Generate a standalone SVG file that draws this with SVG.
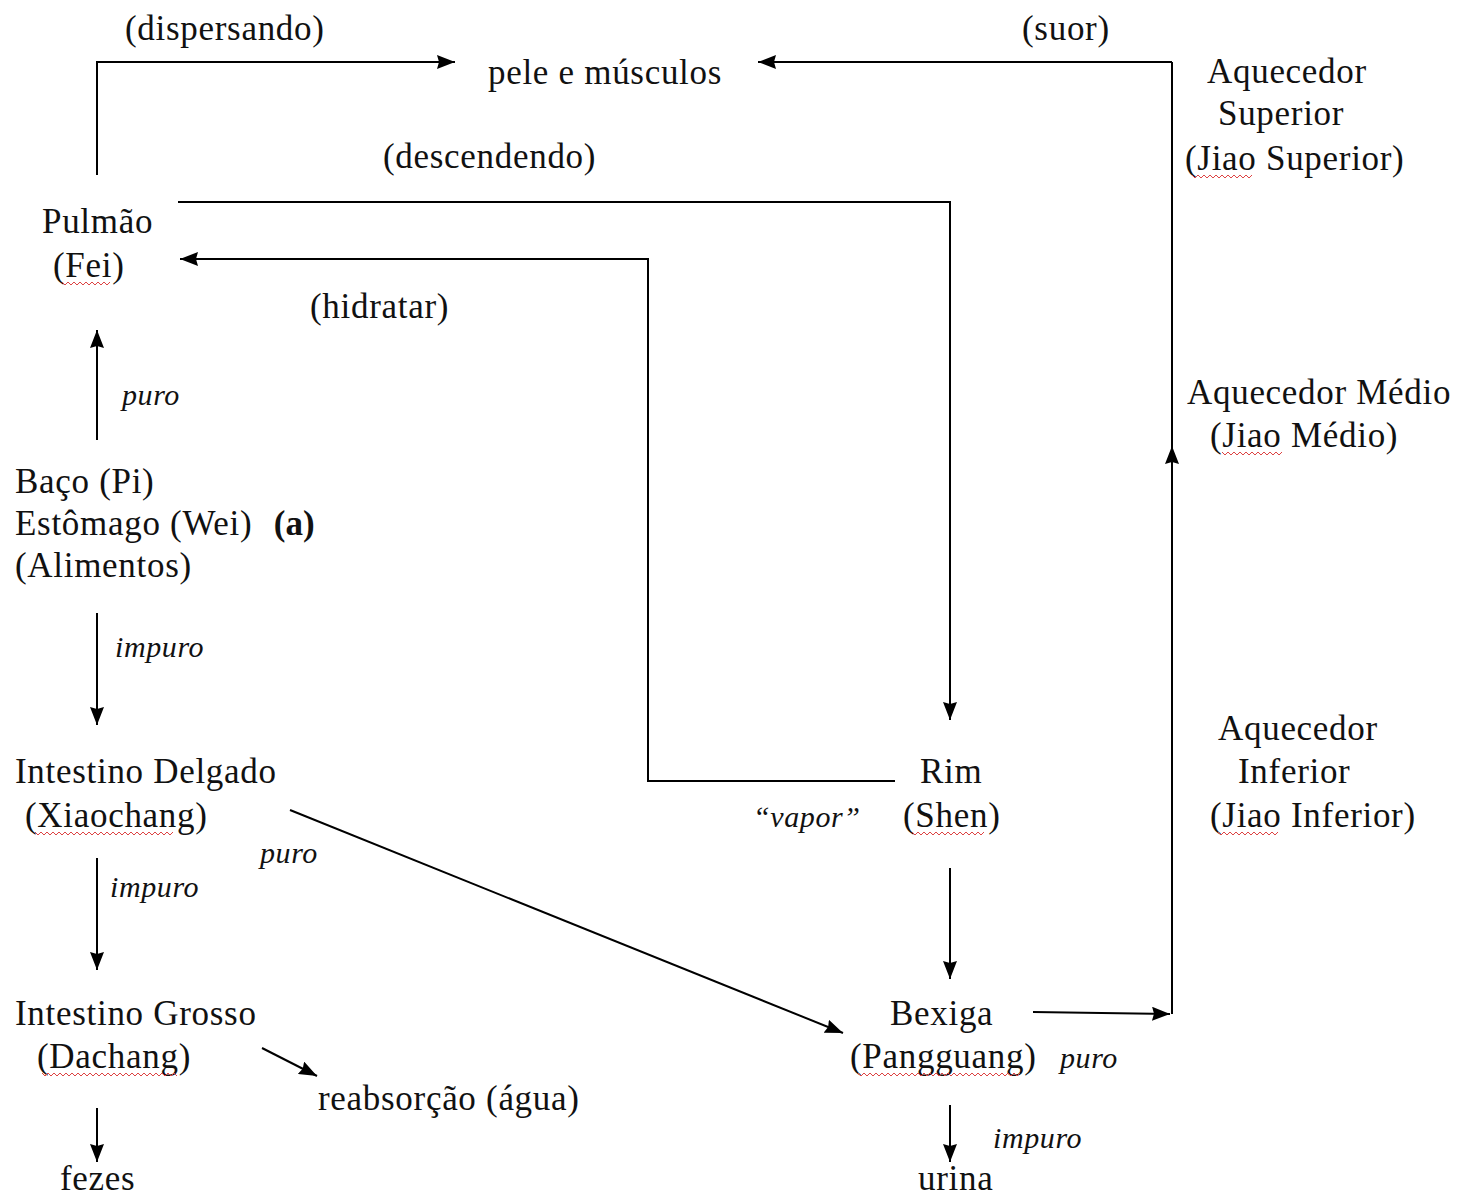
<svg xmlns="http://www.w3.org/2000/svg" width="1460" height="1204" viewBox="0 0 1460 1204">
<defs>
<marker id="ah" viewBox="0 0 18 14" refX="18" refY="7" markerWidth="18" markerHeight="14" markerUnits="userSpaceOnUse" orient="auto">
<path d="M0,0 L18,7 L0,14 L2,7 Z" fill="#000"/>
</marker>
<style>
text{font-family:"Liberation Serif","Times New Roman",serif;font-size:35px;letter-spacing:0.7px;fill:#111}
.i{font-style:italic;font-size:30px;letter-spacing:0.6px}
.b{font-weight:bold;letter-spacing:0}
.c{fill:none;stroke:#000;stroke-width:2}
.w{fill:none;stroke:#d44;stroke-width:1}
</style>
</defs>
<rect width="1460" height="1204" fill="#fff"/>
<g id="connectors">
<path class="c" d="M97,175 V62 H455" marker-end="url(#ah)"/>
<path class="c" d="M1172,62 H758" marker-end="url(#ah)"/>
<path class="c" d="M1172,1014 V446" marker-end="url(#ah)"/>
<path class="c" d="M1172,448 V62"/>
<path class="c" d="M1033,1012 L1170,1014" marker-end="url(#ah)"/>
<path class="c" d="M178,202 H950 V720" marker-end="url(#ah)"/>
<path class="c" d="M895,781 H648 V259 H180" marker-end="url(#ah)"/>
<path class="c" d="M97,440 V330" marker-end="url(#ah)"/>
<path class="c" d="M97,613 V725" marker-end="url(#ah)"/>
<path class="c" d="M97,858 V970" marker-end="url(#ah)"/>
<path class="c" d="M97,1108 V1162" marker-end="url(#ah)"/>
<path class="c" d="M290,810 L843,1033" marker-end="url(#ah)"/>
<path class="c" d="M262,1048 L317,1076" marker-end="url(#ah)"/>
<path class="c" d="M950,868 V979" marker-end="url(#ah)"/>
<path class="c" d="M950,1105 V1162" marker-end="url(#ah)"/>
</g>
<g id="labels">
<text x="125" y="40">(dispersando)</text>
<text x="1022" y="40">(suor)</text>
<text x="383" y="168">(descendendo)</text>
<text x="310" y="318">(hidratar)</text>
<text class="i" x="122" y="405">puro</text>
<text class="i" x="115" y="657">impuro</text>
<text class="i" x="260" y="863">puro</text>
<text class="i" x="110" y="897">impuro</text>
<text class="i" x="753" y="827">“vapor”</text>
<text class="i" x="1060" y="1068">puro</text>
<text class="i" x="993" y="1148">impuro</text>
</g>
<g id="pele"><text x="488" y="84">pele e músculos</text></g>
<g id="pulmao">
<text x="42" y="233">Pulmão</text>
<text x="53" y="277">(Fei)</text>
<path class="w" d="M62,282 l3,3 l3,-3 l3,3 l3,-3 l3,3 l3,-3 l3,3 l3,-3 l3,3 l3,-3 l3,3 l3,-3 l3,3 l3,-3 l3,3 l3,-3"/>
</g>
<g id="baco">
<text x="15" y="493">Baço (Pi)</text>
<text x="15" y="535">Estômago (Wei) <tspan class="b" dx="12">(a)</tspan></text>
<text x="15" y="577">(Alimentos)</text>
</g>
<g id="intestino-delgado">
<text x="15" y="783">Intestino Delgado</text>
<text x="25" y="827">(Xiaochang)</text>
<path class="w" d="M35,832 l3,3 l3,-3 l3,3 l3,-3 l3,3 l3,-3 l3,3 l3,-3 l3,3 l3,-3 l3,3 l3,-3 l3,3 l3,-3 l3,3 l3,-3 l3,3 l3,-3 l3,3 l3,-3 l3,3 l3,-3 l3,3 l3,-3 l3,3 l3,-3 l3,3 l3,-3 l3,3 l3,-3 l3,3 l3,-3 l3,3 l3,-3 l3,3 l3,-3 l3,3 l3,-3 l3,3 l3,-3 l3,3 l3,-3 l3,3 l3,-3 l3,3 l3,-3"/>
</g>
<g id="intestino-grosso">
<text x="15" y="1025">Intestino Grosso</text>
<text x="37" y="1068">(Dachang)</text>
<path class="w" d="M42,1073 l3,3 l3,-3 l3,3 l3,-3 l3,3 l3,-3 l3,3 l3,-3 l3,3 l3,-3 l3,3 l3,-3 l3,3 l3,-3 l3,3 l3,-3 l3,3 l3,-3 l3,3 l3,-3 l3,3 l3,-3 l3,3 l3,-3 l3,3 l3,-3 l3,3 l3,-3 l3,3 l3,-3 l3,3 l3,-3 l3,3 l3,-3 l3,3 l3,-3 l3,3 l3,-3 l3,3 l3,-3 l3,3 l3,-3 l3,3 l3,-3 l3,3"/>
</g>
<g id="reabsorcao"><text x="318" y="1110">reabsorção (água)</text></g>
<g id="fezes"><text x="60" y="1190">fezes</text></g>
<g id="rim">
<text x="920" y="783">Rim</text>
<text x="903" y="827">(Shen)</text>
<path class="w" d="M912,832 l3,3 l3,-3 l3,3 l3,-3 l3,3 l3,-3 l3,3 l3,-3 l3,3 l3,-3 l3,3 l3,-3 l3,3 l3,-3 l3,3 l3,-3 l3,3 l3,-3 l3,3 l3,-3 l3,3 l3,-3 l3,3 l3,-3"/>
</g>
<g id="bexiga">
<text x="890" y="1025">Bexiga</text>
<text x="850" y="1068">(Pangguang)</text>
<path class="w" d="M858,1073 l3,3 l3,-3 l3,3 l3,-3 l3,3 l3,-3 l3,3 l3,-3 l3,3 l3,-3 l3,3 l3,-3 l3,3 l3,-3 l3,3 l3,-3 l3,3 l3,-3 l3,3 l3,-3 l3,3 l3,-3 l3,3 l3,-3 l3,3 l3,-3 l3,3 l3,-3 l3,3 l3,-3 l3,3 l3,-3 l3,3 l3,-3 l3,3 l3,-3 l3,3 l3,-3 l3,3 l3,-3 l3,3 l3,-3 l3,3 l3,-3 l3,3 l3,-3 l3,3 l3,-3 l3,3 l3,-3 l3,3 l3,-3 l3,3 l3,-3"/>
</g>
<g id="urina"><text x="918" y="1190">urina</text></g>
<g id="aquecedor-superior">
<text x="1207" y="83">Aquecedor</text>
<text x="1218" y="125">Superior</text>
<text x="1185" y="170">(Jiao Superior)</text>
<path class="w" d="M1192,175 l3,3 l3,-3 l3,3 l3,-3 l3,3 l3,-3 l3,3 l3,-3 l3,3 l3,-3 l3,3 l3,-3 l3,3 l3,-3 l3,3 l3,-3 l3,3 l3,-3 l3,3 l3,-3"/>
</g>
<g id="aquecedor-medio">
<text x="1187" y="404">Aquecedor Médio</text>
<text x="1210" y="447">(Jiao Médio)</text>
<path class="w" d="M1222,452 l3,3 l3,-3 l3,3 l3,-3 l3,3 l3,-3 l3,3 l3,-3 l3,3 l3,-3 l3,3 l3,-3 l3,3 l3,-3 l3,3 l3,-3 l3,3 l3,-3 l3,3 l3,-3"/>
</g>
<g id="aquecedor-inferior">
<text x="1218" y="740">Aquecedor</text>
<text x="1238" y="783">Inferior</text>
<text x="1210" y="827">(Jiao Inferior)</text>
<path class="w" d="M1218,832 l3,3 l3,-3 l3,3 l3,-3 l3,3 l3,-3 l3,3 l3,-3 l3,3 l3,-3 l3,3 l3,-3 l3,3 l3,-3 l3,3 l3,-3 l3,3 l3,-3 l3,3 l3,-3"/>
</g>
</svg>
